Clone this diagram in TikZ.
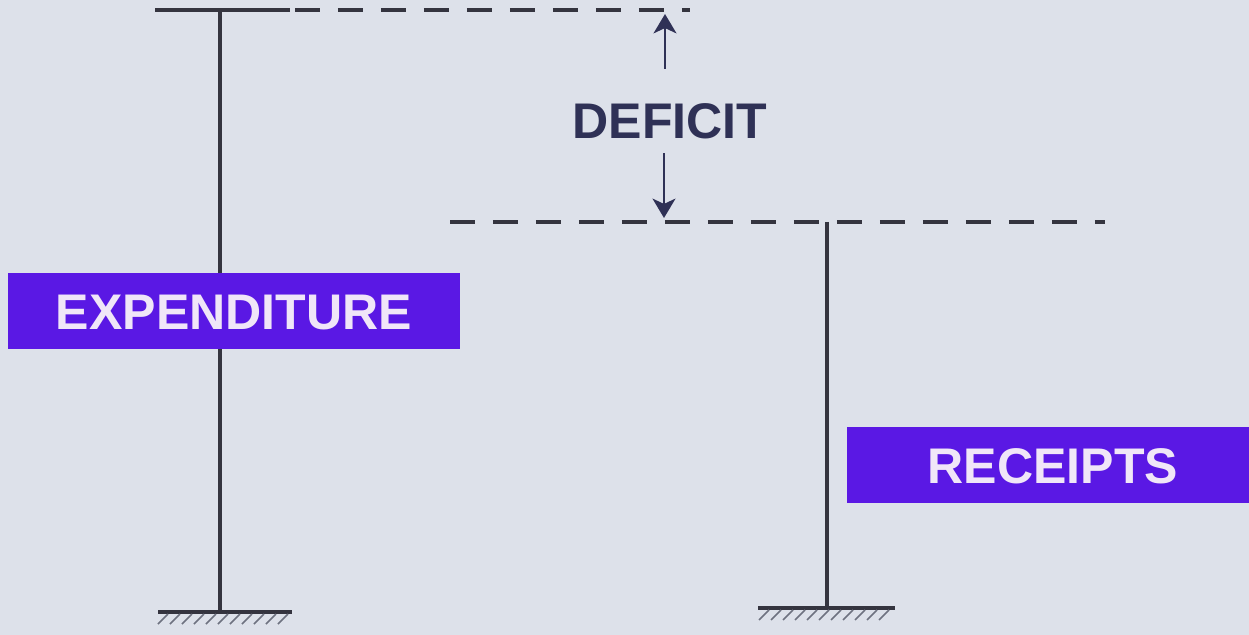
\documentclass[tikz,border=0pt]{standalone}
\usepackage{fontspec}
\setmainfont{Liberation Sans}
\usepackage{xcolor}
\usetikzlibrary{calc,positioning,arrows.meta}
\pgfdeclarelayer{bg}
\pgfsetlayers{bg,main}
\definecolor{slidebg}{HTML}{DDE1EA}
\definecolor{barstroke}{HTML}{34343F}
\definecolor{hatchgray}{HTML}{6E7280}
\definecolor{boxfill}{HTML}{5A18E4}
\definecolor{boxtext}{HTML}{F0E6F8}
\definecolor{deficitnavy}{HTML}{2F3156}

\begin{document}
\begin{tikzpicture}[
  x=0.02cm,
  y=-0.02cm,
  bar/.style={
    draw=barstroke,
    line width=1.8pt
  },
  level/.style={
    draw=barstroke,
    line width=1.8pt,
    dash pattern=on 0.5cm off 0.36cm
  },
  hatch/.style={
    draw=hatchgray,
    line width=1.0pt
  },
  gaparrow/.style={
    draw=deficitnavy,
    line width=1.6pt,
    -{Stealth[length=11pt,width=13pt,inset=3pt]}
  },
  labelbox/.style={
    rectangle,
    draw=none,
    fill=boxfill,
    text=boxtext,
    font=\bfseries\fontsize{28.5}{34}\selectfont,
    minimum height=1.52cm,
    inner sep=0pt,
    text height=20.5pt,
    text depth=0pt
  },
  deficit/.style={
    text=deficitnavy,
    font=\bfseries\fontsize{28.5}{34}\selectfont,
    inner sep=0pt,
    text height=20.5pt,
    text depth=0pt
  }
]

\path[use as bounding box] (0,0) rectangle (1249,635);

% Labels
\node[labelbox, minimum width=9.04cm] (exp) at (234,311) {EXPENDITURE};
\node[labelbox, minimum width=8.24cm] (rec) at (1053,465) {RECEIPTS};
\node[deficit] (def) at (670,120) {DEFICIT};

% Bar ends and levels
\coordinate (exptop)   at (220,10);
\coordinate (expbase)  at (220,612);
\coordinate (rectop)   at (827,222);
\coordinate (recbase)  at (827,608);
\coordinate (explevel) at (690,10);
\coordinate (reclevel) at (1105,222);
\coordinate (deftop)   at (665,14);
\coordinate (defbot)   at (664,218);

\begin{pgfonlayer}{bg}

% Slide background
\fill[slidebg] (0,0) rectangle (1249,635);

% Expenditure bar
\draw[bar] (exptop) -- (expbase);
\draw[bar] ($(exptop)+(-65,0)$) -- ($(exptop)+(70,0)$);
\draw[level] ($(exptop)+(75,0)$) -- (explevel);
\draw[bar] ($(expbase)+(-62,0)$) -- ($(expbase)+(72,0)$);
\foreach \hx in {0,...,10}
  \draw[hatch] ($(expbase)+(-52+\hx*12,2)$) -- ++(-10,10);

% Receipts bar
\draw[bar] (rectop) -- (recbase);
\draw[level] (450,222) -- (reclevel);
\draw[bar] ($(recbase)+(-69,0)$) -- ($(recbase)+(68,0)$);
\foreach \hx in {0,...,10}
  \draw[hatch] ($(recbase)+(-58+\hx*12,2)$) -- ++(-10,10);

\end{pgfonlayer}

% Deficit arrows
\draw[gaparrow, shorten <=0.66cm] (deftop |- def.north) -- (deftop);
\draw[gaparrow, shorten <=0.3cm] (defbot |- def.south) -- (defbot);

\end{tikzpicture}
\end{document}
